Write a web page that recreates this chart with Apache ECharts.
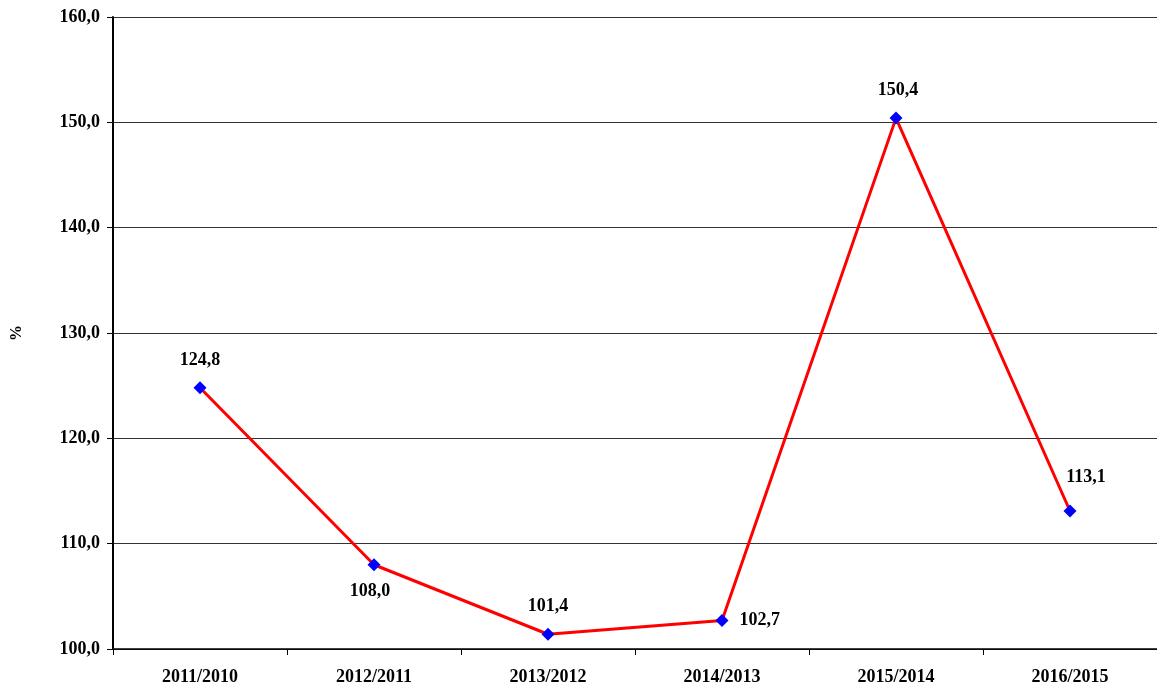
<!DOCTYPE html>
<html>
<head>
<meta charset="utf-8">
<script src="https://cdn.jsdelivr.net/npm/echarts@6/dist/echarts.min.js"></script>
<style>
  html, body { margin: 0; padding: 0; background: #fff; }
  #chart { width: 1157px; height: 686px; }
</style>
</head>
<body>
<div id="chart"></div>
<script>
// categories and values
var categories = ['2011/2010', '2012/2011', '2013/2012', '2014/2013', '2015/2014', '2016/2015'];
var values = [124.8, 108.0, 101.4, 102.7, 150.4, 113.1];
// label placement per point
var labelPos = ['top', 'bottom', 'top', 'right', 'top', 'top'];
var labelDist = [12, 11, 12, 11, 12, 18];
var labelShiftX = [0, -4, 0, 0, 2, 16];

var fontFam = '"Liberation Serif", "Times New Roman", serif';

function fmt(v) {
  return v.toFixed(1).replace('.', ',');
}

var chart = echarts.init(document.getElementById('chart'));

var option = {
  animation: false,
  grid: { left: 113, right: 0, top: 17, bottom: 36 },
  xAxis: {
    type: 'category',
    data: categories,
    boundaryGap: true,
    axisLine: { lineStyle: { color: '#000', width: 1.5 } },
    axisTick: { show: true, length: 6, lineStyle: { color: '#000' } },
    axisLabel: {
      color: '#000', fontFamily: fontFam, fontWeight: 'bold', fontSize: 18, margin: 19
    }
  },
  yAxis: {
    type: 'value',
    min: 100,
    max: 160,
    interval: 10,
    name: '%',
    nameLocation: 'middle',
    nameGap: 88,
    nameTextStyle: { color: '#000', fontFamily: fontFam, fontWeight: 'bold', fontSize: 16 },
    axisLine: { show: true, lineStyle: { color: '#000', width: 2 } },
    axisTick: { show: true, length: 6, lineStyle: { color: '#000' } },
    axisLabel: {
      color: '#000', fontFamily: fontFam, fontWeight: 'bold', fontSize: 18, margin: 13,
      formatter: function (v) { return fmt(v); }
    },
    splitLine: { show: true, lineStyle: { color: '#333', width: 1 } }
  },
  series: [{
    type: 'line',
    data: values.map(function (v, i) {
      return {
        value: v,
        label: { position: labelPos[i], distance: labelDist[i], offset: [labelShiftX[i], 0] }
      };
    }),
    lineStyle: { color: '#ff0000', width: 3 },
    symbol: 'diamond',
    symbolSize: 13,
    itemStyle: { color: '#0000ff' },
    label: {
      show: true,
      color: '#000',
      fontFamily: fontFam,
      fontWeight: 'bold',
      fontSize: 18,
      formatter: function (p) { return fmt(p.value); }
    }
  }]
};

chart.setOption(option);
</script>
</body>
</html>
